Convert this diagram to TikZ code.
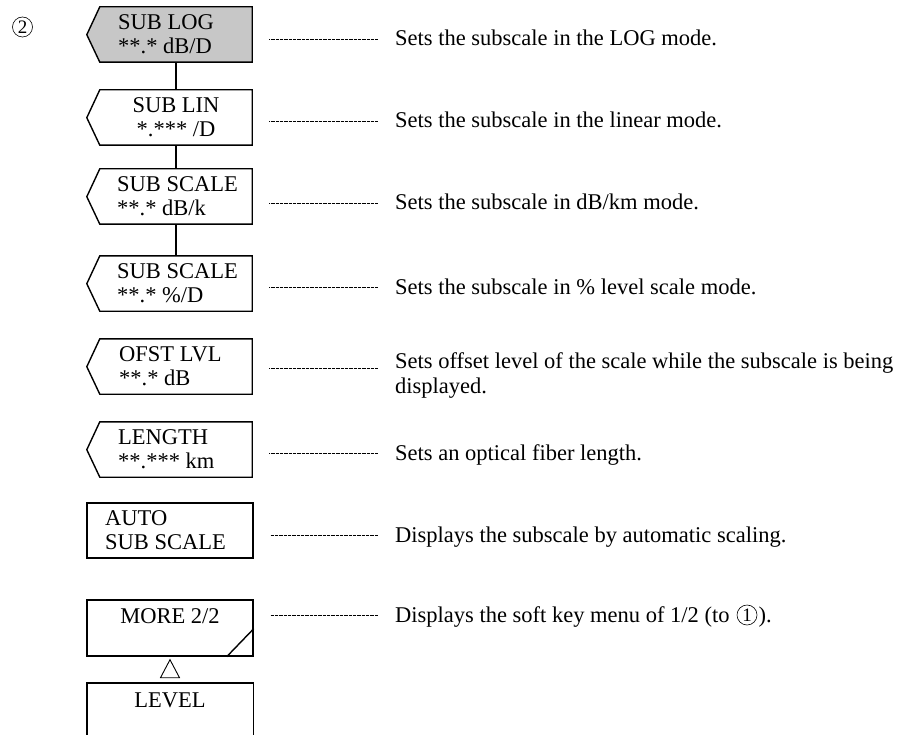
\documentclass[tikz,border=0pt]{standalone}
\usepackage{fontspec}
\setmainfont{Liberation Serif}
\usetikzlibrary{positioning}

\begin{document}
\begin{tikzpicture}[x=1pt,y=-1pt,font=\fontsize{22.5}{24}\selectfont,
	keybox/.style={rectangle,minimum width=152pt,minimum height=55pt,inner sep=0pt},
	plainbox/.style={rectangle,draw,line width=1.4pt,minimum width=166pt,minimum height=55pt,inner sep=0pt},
	keytext/.style={anchor=base west,inner sep=0pt,align=left},
	note/.style={anchor=west,inner sep=0pt,text height=15pt,text depth=1pt},
	circnum/.style={circle,draw,line width=0.6pt,minimum size=20pt,inner sep=0pt,font=\fontsize{19}{19}\selectfont},
	leader/.style={line width=0.6pt,dash pattern=on 0.8pt off 0.5pt},
	keyline/.style={line width=1.4pt}]
	\useasboundingbox (0,0) rectangle (904,735);

	\node[circnum] (menu) at (22.5,27) {2};

	\node[keybox] (sublog) at (176,34.5) {};
	\node[keybox] (sublin) at (176,117.5) {};
	\node[keybox] (subkm)  at (176,196.5) {};
	\node[keybox] (subpct) at (176,283.5) {};
	\node[keybox] (ofst)   at (176,366.5) {};
	\node[keybox] (length) at (176,449.5) {};
	\node[plainbox] (auto) at (170,530.5) {};
	\node[plainbox,minimum height=56pt] (more) at (170,628) {};
	\node[keybox,minimum width=166pt,minimum height=52pt] (level) at (170,709) {};

	\draw[keyline,fill=black!22] (sublog.north west) -- (sublog.north east) -- (sublog.south east) -- (sublog.south west) -- ++(-13,-27.5) -- cycle;
	\foreach \k in {sublin,subkm,subpct,ofst,length}
		\draw[keyline] (\k.north west) -- (\k.north east) -- (\k.south east) -- (\k.south west) -- ++(-13,-27.5) -- cycle;
	\draw[keyline] (level.south west) -- (level.north west) -- (level.north east) -- (level.south east);
	\draw[keyline] ([xshift=-27pt]more.south east) -- ++(27,-28);
	\draw[line width=0.9pt] ([yshift=-3pt]more.south) -- ++(9.5,18) -- ++(-19,0) -- cycle;

	\path[line width=1.8pt]
		(sublog) edge (sublin)
		(sublin) edge (subkm)
		(subkm)  edge (subpct);

	\node[keytext] (sublogt) at (118,53.5) {SUB LOG\\**.* dB/D};
	\node[keytext,align=center,anchor=base] (sublint) at (176,136.5) {SUB LIN\\*.*** /D};
	\node[keytext] (subkmt) at (117,215.5) {SUB SCALE\\**.* dB/k};
	\node[keytext] (subpctt) at (117,302.5) {SUB SCALE\\**.* \%/D};
	\node[keytext] (ofstt) at (119,385.5) {OFST LVL\\**.* dB};
	\node[keytext] (lengtht) at (118,468.5) {LENGTH\\**.*** km};
	\node[keytext] (autot) at (105,549.5) {AUTO\\SUB SCALE};
	\node[keytext,anchor=base] (moret) at (170,623) {MORE 2/2};
	\node[keytext,anchor=base] (levelt) at (170,707) {LEVEL};

	\node[note] (dlog) at (395,39) {Sets the subscale in the LOG mode.};
	\node[note] (dlin) at (395,121) {Sets the subscale in the linear mode.};
	\node[note] (dkm) at (395,203) {Sets the subscale in dB/km mode.};
	\node[note] (dpct) at (395,287) {Sets the subscale in \% level scale mode.};
	\node[note,anchor=base west] (dofst) at (395,368) {Sets offset level of the scale while the subscale is being};
	\node[note,anchor=base west] (dofstb) at (395,393) {displayed.};
	\node[note] (dlength) at (395,453) {Sets an optical fiber length.};
	\node[note] (dauto) at (395,535) {Displays the subscale by automatic scaling.};
	\node[note] (dmore) at (395,615) {Displays the soft key menu of 1/2 (to};
	\node[circnum,right=7pt of dmore] (one) {1};
	\node[note,right=1pt of one] (dmoreb) {).};

	\foreach \k/\d in {sublog/dlog,sublin/dlin,subkm/dkm,subpct/dpct,length/dlength,auto/dauto,more/dmore}
		\draw[leader] (\d.west -| \k.east) ++(17,0) -- ([xshift=-17pt]\d.west);
	\draw[leader] (dofst.base west -| ofst.east) ++(17,0) -- ([xshift=-17pt]dofst.base west);
\end{tikzpicture}
\end{document}
